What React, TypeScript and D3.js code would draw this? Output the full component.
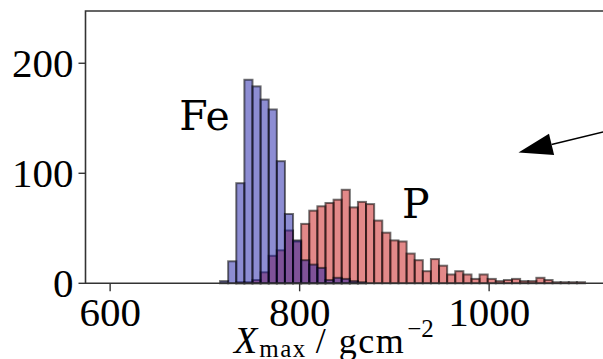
import React, { useEffect, useRef } from 'react';
import * as d3 from 'd3';

// histogram bins (g/cm^2)
const binStart = 716;
const binWidth = 8.56;
const feCounts = [2, 20, 91, 185, 179, 167, 158, 111, 63, 39, 21, 17, 14, 3, 5, 4, 2, 1];
const pCounts = [0, 0, 1, 1, 3, 10, 25, 30, 48, 38, 54, 66, 70, 73, 76, 85, 69, 74, 72, 57, 46, 39, 38, 27, 21, 11, 22, 16, 8, 11, 8, 4, 8, 4, 2, 3, 4, 2, 2, 5, 3, 1, 1, 1, 1];

const xTicks = [600, 800, 1000];
const yTicks = [0, 100, 200];
const xLim = [574, 1125];
const yLim = [0, 247.5];

// annotations in data units
const labels = [
  { text: 'Fe', x: 673, y: 139 },
  { text: 'P', x: 908, y: 59 },
];
const arrow = { from: [1142, 142], to: [1031, 119] };

export default function App() {
  const svgRef = useRef<SVGSVGElement>(null);
  const width = 603;
  const height = 359;
  const margin = { top: 11, left: 85.5, bottom: 75.7 };

  useEffect(() => {
    if (!svgRef.current) return;
    const svg = d3.select(svgRef.current);
    svg.selectAll('*').remove();

    const xScale = d3.scaleLinear()
      .domain(xLim)
      .range([margin.left, margin.left + (xLim[1] - xLim[0]) * 0.9475]);
    const yScale = d3.scaleLinear()
      .domain(yLim)
      .range([height - margin.bottom, margin.top]);

    const drawHist = (counts: number[], fill: string) => {
      svg.append('g')
        .selectAll('rect')
        .data(counts)
        .enter()
        .append('rect')
        .attr('x', (_, i) => xScale(binStart + i * binWidth))
        .attr('width', xScale(binStart + binWidth) - xScale(binStart))
        .attr('y', d => yScale(d))
        .attr('height', d => yScale(0) - yScale(d))
        .attr('fill', fill)
        .attr('fill-opacity', 0.5)
        .attr('stroke', '#000')
        .attr('stroke-opacity', 0.55)
        .attr('stroke-width', 2);
    };
    drawHist(pCounts, '#c81414');
    drawHist(feCounts, '#1c1ca8');

    // frame
    const x0 = xScale(xLim[0]);
    const y0 = yScale(0);
    svg.append('path')
      .attr('d', `M${width + 5},${yScale(yLim[1])}H${x0}V${y0}H${width + 5}`)
      .attr('fill', 'none')
      .attr('stroke', '#333')
      .attr('stroke-width', 1.6);

    const font = '"Liberation Serif", serif';

    // y ticks
    const yg = svg.append('g');
    yTicks.forEach(t => {
      yg.append('line')
        .attr('x1', x0 - 7).attr('x2', x0)
        .attr('y1', yScale(t)).attr('y2', yScale(t))
        .attr('stroke', '#333').attr('stroke-width', 1.4);
      yg.append('text')
        .attr('x', x0 - 12)
        .attr('y', yScale(t))
        .attr('dy', '0.34em')
        .attr('text-anchor', 'end')
        .attr('font-family', font)
        .attr('font-size', 41)
        .text(t);
    });

    // x ticks
    const xg = svg.append('g');
    xTicks.forEach(t => {
      xg.append('line')
        .attr('x1', xScale(t)).attr('x2', xScale(t))
        .attr('y1', y0).attr('y2', y0 + 8)
        .attr('stroke', '#333').attr('stroke-width', 1.4);
      xg.append('text')
        .attr('x', xScale(t))
        .attr('y', y0 + 43)
        .attr('text-anchor', 'middle')
        .attr('font-family', font)
        .attr('font-size', 41)
        .text(t);
    });

    // axis label
    const lab = svg.append('text')
      .attr('x', 234)
      .attr('y', 353)
      .attr('font-family', font)
      .attr('font-size', 36);
    lab.append('tspan').attr('font-style', 'italic').attr('font-size', 38).text('X');
    lab.append('tspan').attr('font-size', 25).attr('dy', 4).attr('dx', 2).attr('letter-spacing', 1.5).text('max');
    lab.append('tspan').attr('dy', -4).attr('dx', 9).text('/');
    lab.append('tspan').attr('dx', 13).attr('letter-spacing', 1.5).text('gcm');
    lab.append('tspan').attr('font-size', 25).attr('dy', -16).attr('dx', 2).text('−2');

    // species labels
    labels.forEach(l => {
      svg.append('text')
        .attr('x', xScale(l.x))
        .attr('y', yScale(l.y))
        .attr('font-family', '"DejaVu Serif", serif')
        .attr('font-size', 41)
        .text(l.text);
    });

    // arrow
    const [fx, fy] = [xScale(arrow.from[0]), yScale(arrow.from[1])];
    const [tx, ty] = [xScale(arrow.to[0]), yScale(arrow.to[1])];
    const ang = Math.atan2(fy - ty, fx - tx);
    const headLen = 34;
    const headHalf = 11;
    const bx = tx + headLen * Math.cos(ang);
    const by = ty + headLen * Math.sin(ang);
    svg.append('line')
      .attr('x1', fx).attr('y1', fy)
      .attr('x2', bx).attr('y2', by)
      .attr('stroke', '#000').attr('stroke-width', 1.5);
    svg.append('path')
      .attr('d', `M${tx},${ty}L${bx - headHalf * Math.sin(ang)},${by + headHalf * Math.cos(ang)}L${bx + headHalf * Math.sin(ang)},${by - headHalf * Math.cos(ang)}Z`)
      .attr('fill', '#000');
  }, []);

  return (
    <svg
      ref={svgRef}
      width={width}
      height={height}
      style={{ position: 'absolute', left: 0, top: 0, background: '#fff' }}
    />
  );
}
